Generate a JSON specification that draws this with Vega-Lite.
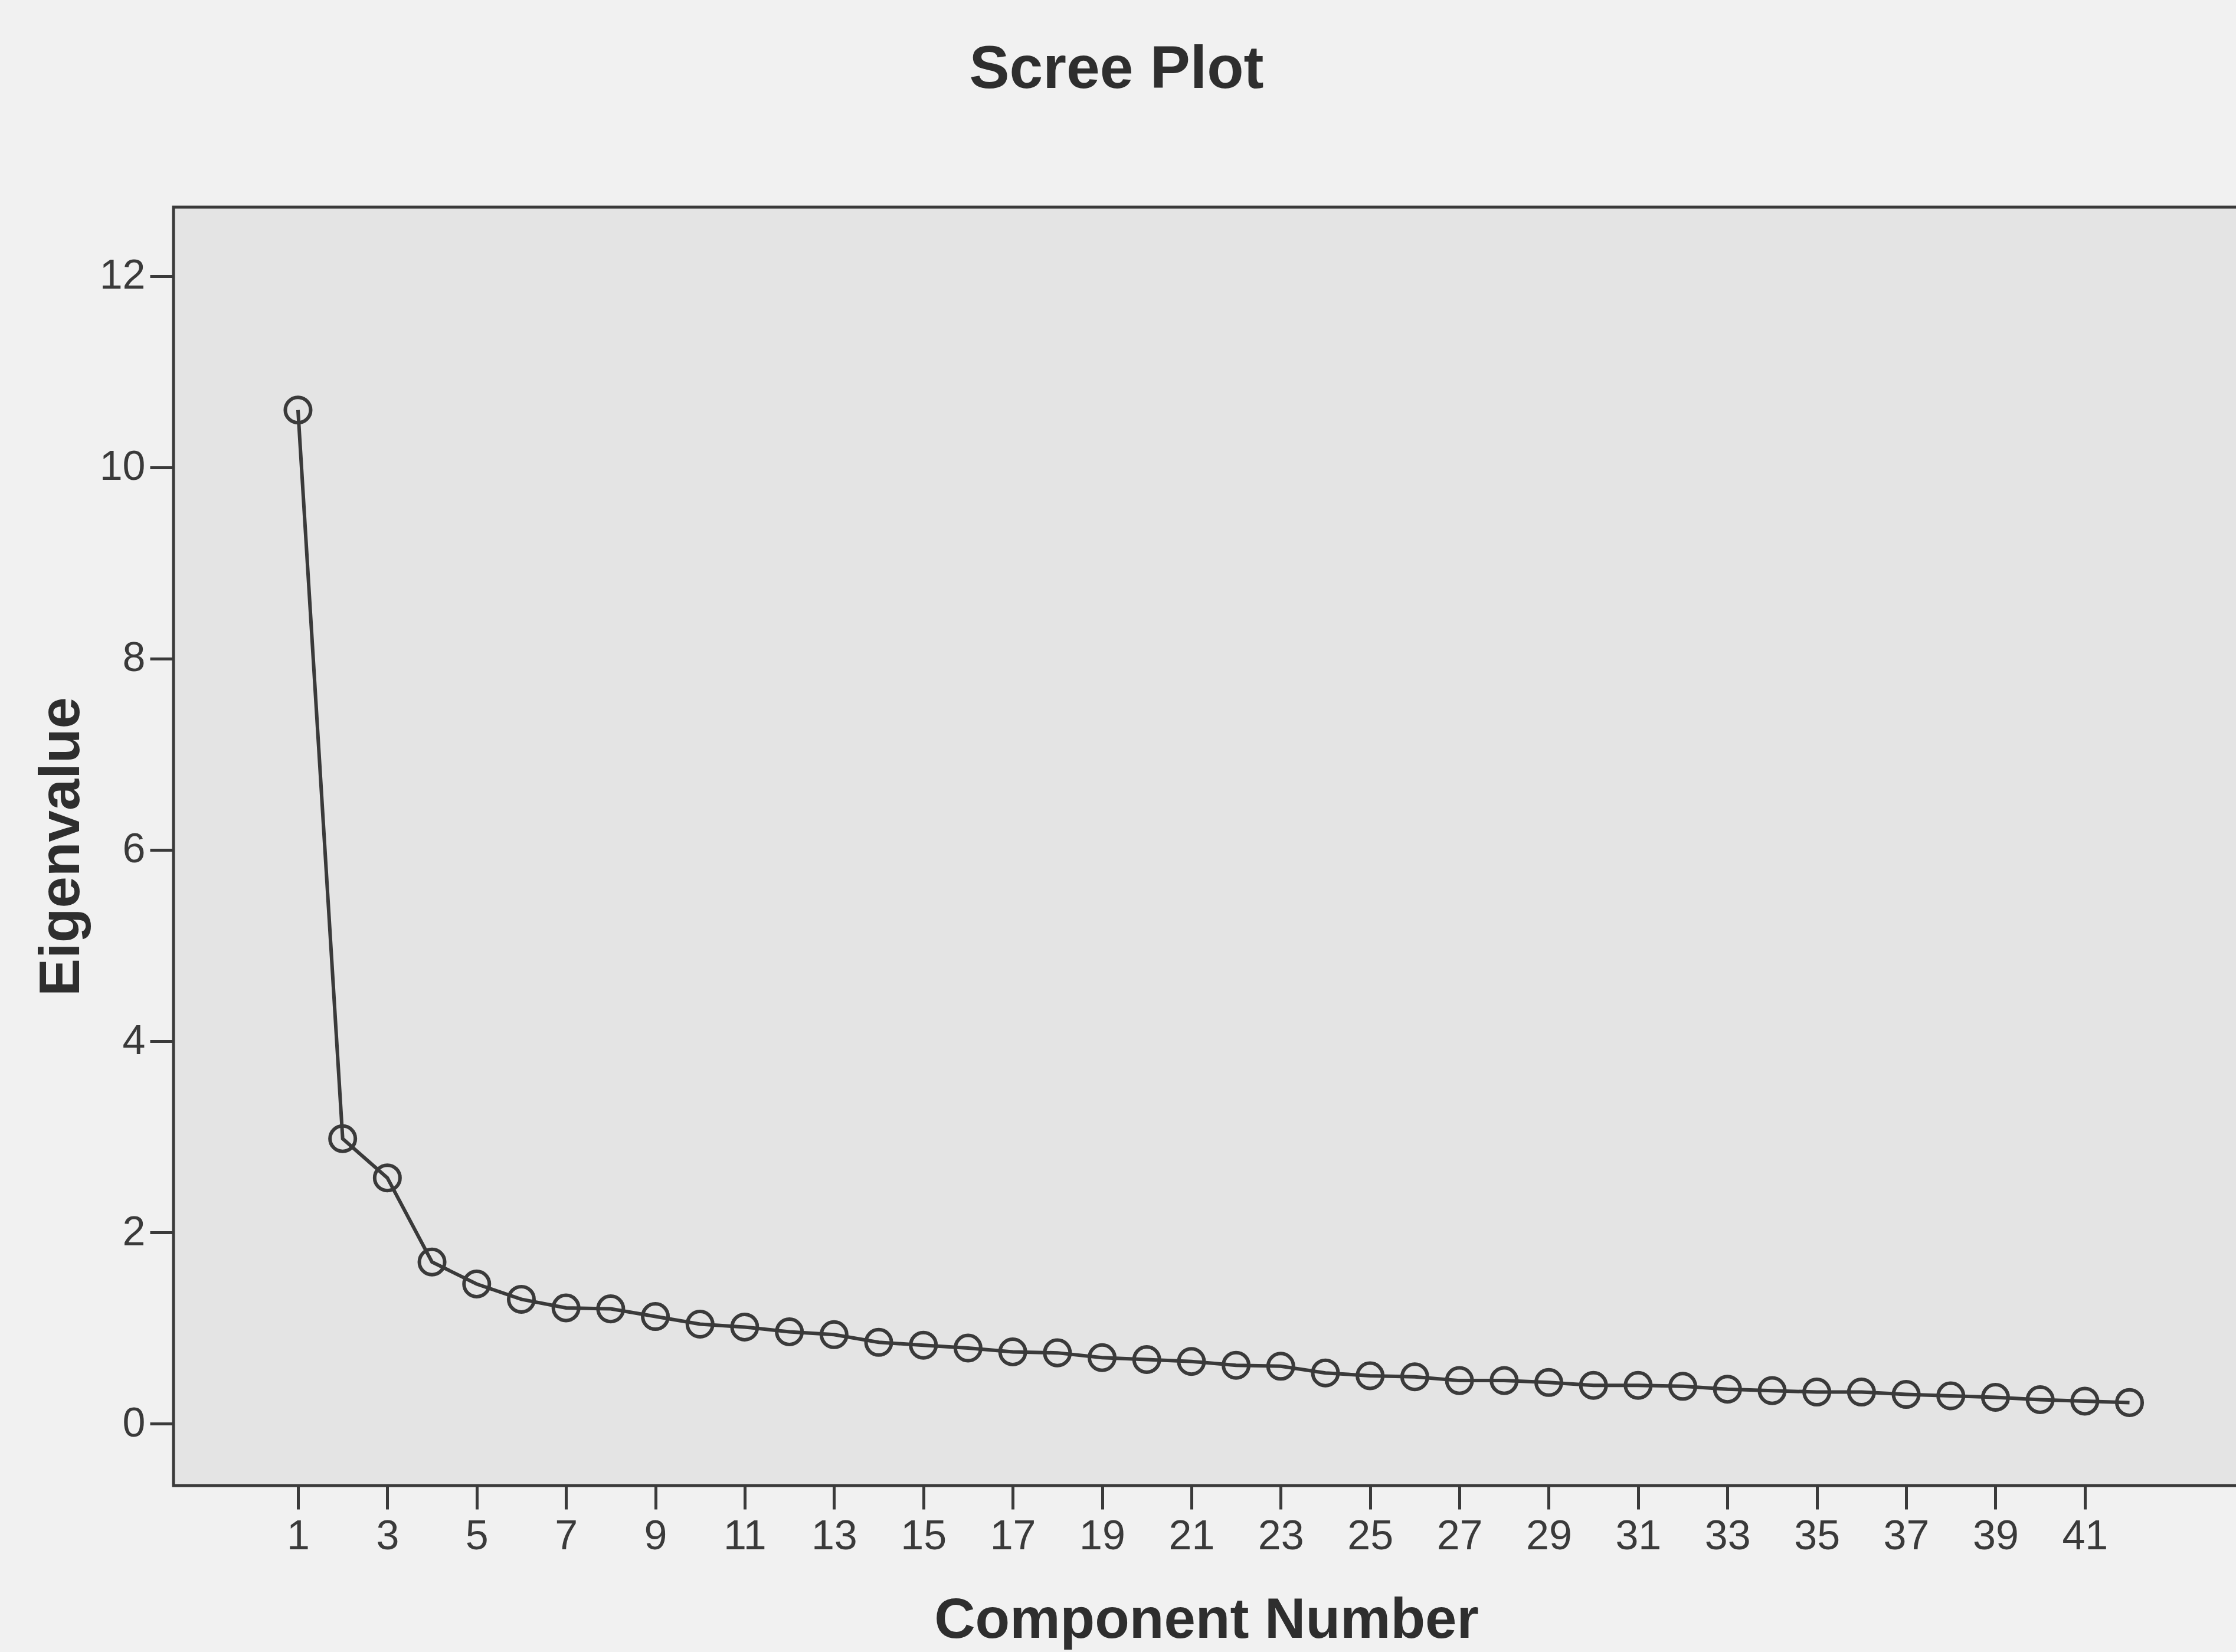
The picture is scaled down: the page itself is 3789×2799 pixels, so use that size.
{
  "$schema": "https://vega.github.io/schema/vega-lite/v6.json",
  "autosize": {"type": "none"},
  "width": 3500,
  "height": 2166,
  "padding": {"left": 294, "top": 351, "right": 0, "bottom": 282},
  "background": "#f1f1f1",
  "title": {
    "text": "Scree Plot",
    "font": "Liberation Sans",
    "fontSize": 102,
    "fontWeight": "bold",
    "color": "#2e2e2e",
    "anchor": "middle",
    "frame": "group",
    "baseline": "alphabetic",
    "offset": 100,
    "dx": -152
  },
  "config": {
    "view": {"fill": "#e4e4e4", "stroke": "#3a3a3a", "strokeWidth": 5},
    "axis": {
      "domain": false,
      "grid": false,
      "tickColor": "#3a3a3a",
      "tickWidth": 5,
      "tickSize": 40,
      "labelFont": "Liberation Sans",
      "labelFontSize": 70,
      "labelColor": "#3a3a3a",
      "titleFont": "Liberation Sans",
      "titleFontSize": 96,
      "titleFontWeight": "bold",
      "titleColor": "#2e2e2e"
    }
  },
  "data": {
    "values": [
      {"component": 1, "eigenvalue": 10.6},
      {"component": 2, "eigenvalue": 2.98},
      {"component": 3, "eigenvalue": 2.57},
      {"component": 4, "eigenvalue": 1.69},
      {"component": 5, "eigenvalue": 1.46},
      {"component": 6, "eigenvalue": 1.3},
      {"component": 7, "eigenvalue": 1.21},
      {"component": 8, "eigenvalue": 1.2},
      {"component": 9, "eigenvalue": 1.12},
      {"component": 10, "eigenvalue": 1.04},
      {"component": 11, "eigenvalue": 1.01},
      {"component": 12, "eigenvalue": 0.96},
      {"component": 13, "eigenvalue": 0.93},
      {"component": 14, "eigenvalue": 0.85},
      {"component": 15, "eigenvalue": 0.82},
      {"component": 16, "eigenvalue": 0.79},
      {"component": 17, "eigenvalue": 0.75},
      {"component": 18, "eigenvalue": 0.74},
      {"component": 19, "eigenvalue": 0.69},
      {"component": 20, "eigenvalue": 0.67},
      {"component": 21, "eigenvalue": 0.65},
      {"component": 22, "eigenvalue": 0.61},
      {"component": 23, "eigenvalue": 0.6},
      {"component": 24, "eigenvalue": 0.53},
      {"component": 25, "eigenvalue": 0.5},
      {"component": 26, "eigenvalue": 0.49},
      {"component": 27, "eigenvalue": 0.45},
      {"component": 28, "eigenvalue": 0.45},
      {"component": 29, "eigenvalue": 0.43},
      {"component": 30, "eigenvalue": 0.4},
      {"component": 31, "eigenvalue": 0.4},
      {"component": 32, "eigenvalue": 0.39},
      {"component": 33, "eigenvalue": 0.36},
      {"component": 34, "eigenvalue": 0.345},
      {"component": 35, "eigenvalue": 0.33},
      {"component": 36, "eigenvalue": 0.33},
      {"component": 37, "eigenvalue": 0.305},
      {"component": 38, "eigenvalue": 0.29},
      {"component": 39, "eigenvalue": 0.275},
      {"component": 40, "eigenvalue": 0.25},
      {"component": 41, "eigenvalue": 0.235},
      {"component": 42, "eigenvalue": 0.22}
    ]
  },
  "encoding": {
    "x": {
      "field": "component",
      "type": "quantitative",
      "scale": {"domain": [-1.787, 44.45], "nice": false, "zero": false},
      "axis": {
        "title": "Component Number",
        "values": [1, 3, 5, 7, 9, 11, 13, 15, 17, 19, 21, 23, 25, 27, 29, 31, 33, 35, 37, 39, 41],
        "labelPadding": 12,
        "titlePadding": 60,
        "labelFlush": false
      }
    },
    "y": {
      "field": "eigenvalue",
      "type": "quantitative",
      "scale": {"domain": [-0.648, 12.722], "nice": false, "zero": false},
      "axis": {
        "title": "Eigenvalue",
        "values": [0, 2, 4, 6, 8, 10, 12],
        "labelPadding": 8,
        "titlePadding": 15,
        "labelFlush": false
      }
    }
  },
  "layer": [
    {"mark": {"type": "line", "color": "#3a3a3a", "strokeWidth": 6}},
    {"mark": {"type": "point", "shape": "circle", "filled": false, "color": "#3a3a3a", "strokeWidth": 6, "size": 1850, "opacity": 1}}
  ]
}
